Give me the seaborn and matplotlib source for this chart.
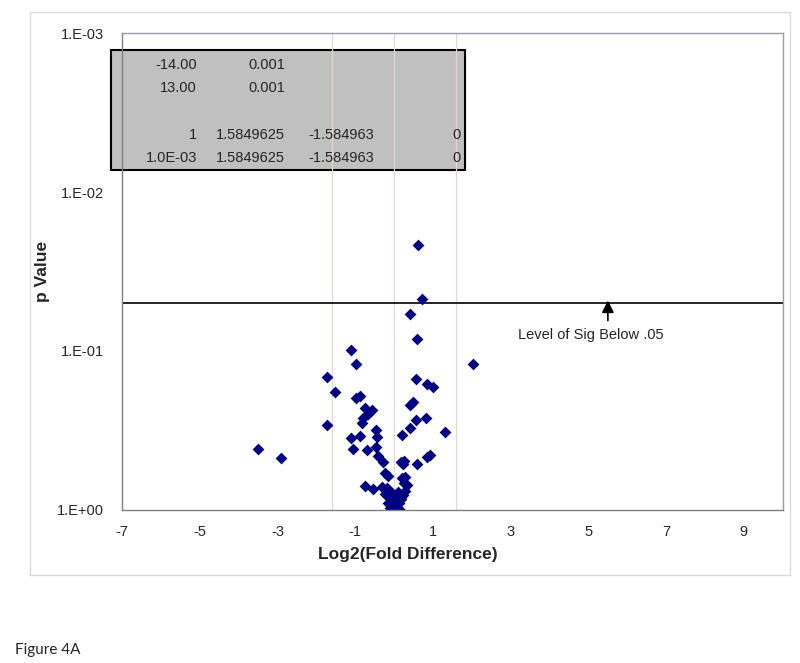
import matplotlib
matplotlib.use('Agg')
import matplotlib.pyplot as plt
import seaborn as sns
from matplotlib.patches import Rectangle
from matplotlib.ticker import FixedLocator, NullLocator

# log2 fold difference and p value for each gene
log2_fold = [0.61, 0.73, 0.41, 0.60, -1.11, -0.97, 2.03, -1.72, 0.56, 0.84,
             1.01, -1.52, -0.97, -0.88, 0.48, 0.40, -0.75, -0.58, -0.67, -0.80,
             -0.83, 0.57, 0.83, -1.73, 0.41, -0.47, 1.30, -0.88, -0.45, -1.12,
             0.21, -3.50, -2.91, -1.06, -0.69, -0.47, -0.41, -0.28, 0.17, 0.26,
             0.23, 0.60, 0.85, 0.92, -0.23, -0.15, 0.20, 0.28, 0.26, 0.33,
             -0.75, -0.53, -0.32, -0.19,
             -0.23, -0.13, -0.05, 0.00, -0.01, 0.06, 0.13, 0.18, 0.23, 0.28,
             0.06, -0.06, 0.11, -0.15, 0.08, -0.10, 0.13]
p_value = [0.0216, 0.0474, 0.0583, 0.0838, 0.099, 0.121, 0.120, 0.146, 0.151, 0.162,
           0.169, 0.181, 0.198, 0.192, 0.209, 0.220, 0.229, 0.236, 0.248, 0.265,
           0.282, 0.270, 0.264, 0.293, 0.303, 0.312, 0.323, 0.342, 0.348, 0.351,
           0.339, 0.416, 0.469, 0.415, 0.417, 0.400, 0.459, 0.502, 0.498, 0.490,
           0.517, 0.517, 0.462, 0.448, 0.585, 0.614, 0.633, 0.619, 0.680, 0.698,
           0.706, 0.736, 0.718, 0.726,
           0.794, 0.830, 0.879, 0.931, 1.0, 0.959, 0.906, 0.855, 0.806, 0.760,
           0.819, 0.784, 0.771, 0.906, 0.867, 0.972, 0.986]

cutoff_lines = [-1.5849625, 0, 1.5849625]
sig_level = 0.05

x_ticks = [-7, -5, -3, -1, 1, 3, 5, 7, 9]
y_ticks = [0.001, 0.01, 0.1, 1]
y_tick_labels = ['1.E-03', '1.E-02', '1.E-01', '1.E+00']

table_rows = [
    ['-14.00', '0.001', '', ''],
    ['13.00', '0.001', '', ''],
    ['', '', '', ''],
    ['1', '1.5849625', '-1.584963', '0'],
    ['1.0E-03', '1.5849625', '-1.584963', '0'],
]

sns.set_style('white')
plt.rcParams['font.family'] = ['Liberation Sans', 'DejaVu Sans']
plt.rcParams['axes.unicode_minus'] = False

fig = plt.figure(figsize=(8, 6.63), dpi=100)
ax = fig.add_axes([0.1525, 0.2308, 0.826, 0.7194])

# outer chart border
fig.patches.append(Rectangle((30 / 800, 1 - 575 / 663), 760 / 800, 563 / 663,
                             transform=fig.transFigure, fill=False,
                             edgecolor='#d9d9d9', lw=1))

# grey data table overlaid on the plot
box = Rectangle((111 / 800, 1 - 170 / 663), 354 / 800, 120 / 663,
                transform=fig.transFigure, facecolor='#c0c0c0',
                edgecolor='black', lw=1.5, zorder=1, clip_on=False)
ax.add_patch(box)
col_right = [197, 285, 374, 461]
row_y = [65, 88, 112, 135, 158]
for r, row in enumerate(table_rows):
    for c, txt in enumerate(row):
        if txt:
            fig.text(col_right[c] / 800, 1 - row_y[r] / 663, txt, ha='right',
                     va='center', fontsize=10.5, zorder=5)

for xv in cutoff_lines:
    ax.axvline(xv, color='#e2d6d6', lw=0.9, zorder=2)
ax.axhline(sig_level, color='black', lw=1.2, zorder=2)

sns.scatterplot(x=log2_fold, y=p_value, marker='D', color='#000080', s=36,
                linewidth=0, ax=ax, zorder=3)

ax.annotate('', xy=(5.5, 0.0462), xytext=(5.5, 0.067),
            arrowprops=dict(arrowstyle='-|>', color='black', lw=1.2,
                            mutation_scale=18))
ax.text(5.06, 0.079, 'Level of Sig Below .05', ha='center', va='center',
        fontsize=10.5)

ax.set_yscale('log')
ax.set_ylim(1, 0.001)
ax.set_xlim(-7, 10)
ax.xaxis.set_major_locator(FixedLocator(x_ticks))
ax.yaxis.set_major_locator(FixedLocator(y_ticks))
ax.yaxis.set_minor_locator(NullLocator())
ax.set_yticklabels(y_tick_labels)
ax.tick_params(axis='both', which='major', direction='out', length=4,
               width=0.8, color='#808080', labelsize=10.5)
ax.tick_params(axis='x', pad=7)
ax.tick_params(axis='y', pad=9)

for side, spine in ax.spines.items():
    spine.set_color('#9a9aaa' if side in ('top', 'right') else '#808080')
    spine.set_linewidth(1.0)
    spine.set_visible(True)
    spine.set_zorder(4)

fig.text(408 / 800, 1 - 555 / 663, 'Log2(Fold Difference)', ha='center',
         va='center', fontsize=12.5, fontweight='bold')
fig.text(42 / 800, 1 - 271 / 663, 'p Value', ha='center', va='center',
         rotation=90, fontsize=12.5, fontweight='bold')
fig.text(15 / 800, 1 - 650 / 663, 'Figure 4A', ha='left', va='center',
         fontsize=11, family=['Lato', 'DejaVu Sans'])

fig.savefig('out.png', dpi=100)
